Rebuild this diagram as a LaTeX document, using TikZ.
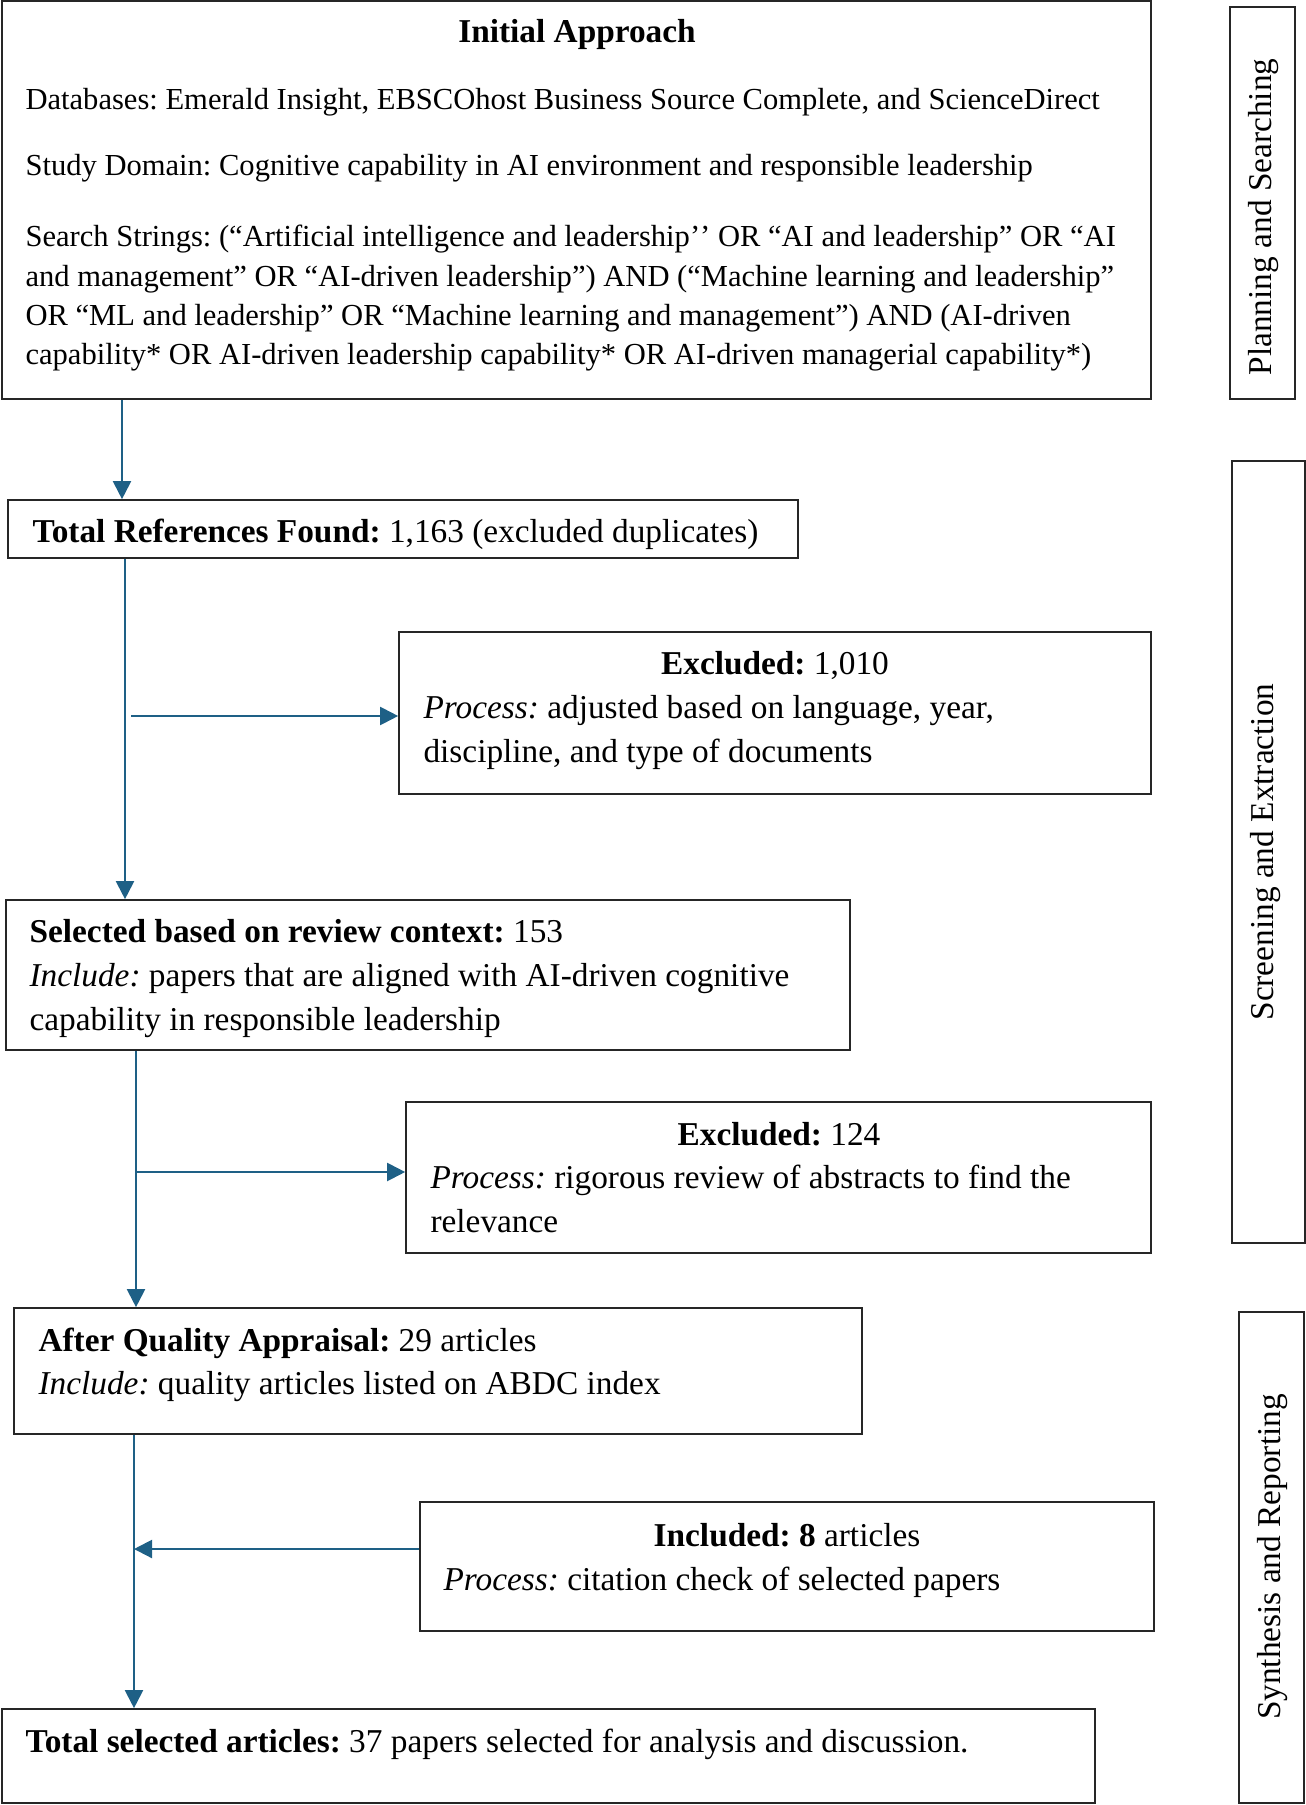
\documentclass[tikz,border=0pt]{standalone}
\usepackage{fontspec}
\setmainfont{Liberation Serif}
\usetikzlibrary{arrows.meta,fit}
\definecolor{arrowblue}{RGB}{30,96,134}
\newcommand\fsA{\fontsize{11}{13}\selectfont}
\newcommand\fsB{\fontsize{12}{14}\selectfont}
\frenchspacing
\begin{document}
\begin{tikzpicture}[x=0.36pt,y=-0.36pt,
  box/.style={draw=black!85, line width=0.6pt, inner sep=0pt, rectangle},
  txtA/.style={anchor=base west, inner sep=0pt, font=\fsA},
  txtB/.style={anchor=base west, inner sep=0pt, font=\fsB},
  txtC/.style={anchor=base, inner sep=0pt, font=\fsB},
  side/.style={rotate=90, inner sep=0pt, font=\fsB},
  arr/.style={draw=arrowblue, line width=0.75pt, -{Triangle[length=6.5pt,width=6.5pt]}}]
\useasboundingbox (0,0) rectangle (1306,1805);

% boxes
\node[box, fit={(2,1) (1151,399)}] (init) {};
\node[box, fit={(8,500) (798,558)}] (tr) {};
\node[box, fit={(399,632) (1151,794)}] (ex1) {};
\node[box, fit={(6,900) (850,1050)}] (sel) {};
\node[box, fit={(406,1102) (1151,1253)}] (ex2) {};
\node[box, fit={(14,1308) (862,1434)}] (aq) {};
\node[box, fit={(420,1502) (1154,1631)}] (inc) {};
\node[box, fit={(2,1709) (1095,1803)}] (ts) {};
\node[box, fit={(1230,7) (1295,399)}] (s1) {};
\node[box, fit={(1232,461) (1305,1243)}] (s2) {};
\node[box, fit={(1239,1312) (1304,1803)}] (s3) {};

% side labels
\node[side] (l1) at (1264,217) {Planning and Searching};
\node[side] (l2) at (1266,852) {Screening and Extraction};
\node[side] (l3) at (1273,1557) {Synthesis and Reporting};

% initial approach
\node[txtC] (ia0) at (577,43) {\textbf{Initial Approach}};
\node[txtA] (ia1) at (25,110) {Databases: Emerald Insight, EBSCOhost Business Source Complete, and ScienceDirect};
\node[txtA] (ia2) at (25,176) {Study Domain: Cognitive capability in AI environment and responsible leadership};
\node[txtA] (ia3) at (25,247) {Search Strings: (“Artificial intelligence and leadership’\kern0pt’ OR “AI and leadership” OR “AI};
\node[txtA] (ia4) at (25,287) {and management” OR “AI-driven leadership”) AND (“Machine learning and leadership”};
\node[txtA] (ia5) at (25,326) {OR “ML and leadership” OR “Machine learning and management”) AND (AI-driven};
\node[txtA] (ia6) at (25,365) {capability* OR AI-driven leadership capability* OR AI-driven managerial capability*)};

% total references
\node[txtB] (tr1) at (32,542) {\textbf{Total References Found:} 1,163 (excluded duplicates)};

% excluded 1
\node[txtC] (ex1a) at (775,674) {\textbf{Excluded:} 1,010};
\node[txtB] (ex1b) at (423,718) {\textit{Process:} adjusted based on language, year,};
\node[txtB] (ex1c) at (423,762) {discipline, and type of documents};

% selected
\node[txtB] (sel1) at (29,942) {\textbf{Selected based on review context:} 153};
\node[txtB] (sel2) at (29,986) {\textit{Include:} papers that are aligned with AI-driven cognitive};
\node[txtB] (sel3) at (29,1030) {capability in responsible leadership};

% excluded 2
\node[txtC] (ex2a) at (779,1145) {\textbf{Excluded:} 124};
\node[txtB] (ex2b) at (430,1188) {\textit{Process:} rigorous review of abstracts to find the};
\node[txtB] (ex2c) at (430,1232) {relevance};

% after quality appraisal
\node[txtB] (aq1) at (38,1351) {\textbf{After Quality Appraisal:} 29 articles};
\node[txtB] (aq2) at (38,1394) {\textit{Include:} quality articles listed on ABDC index};

% included
\node[txtC] (inc1) at (787,1546) {\textbf{Included: 8} articles};
\node[txtB] (inc2) at (443,1590) {\textit{Process:} citation check of selected papers};

% total selected
\node[txtB] (ts1) at (25,1752) {\textbf{Total selected articles:} 37 papers selected for analysis and discussion.};

% connectors
\coordinate (c0) at (122,0);
\coordinate (c1) at (125,0);
\coordinate (c2) at (136,0);
\coordinate (c3) at (134,0);
\coordinate (b1) at (131,716);
\coordinate (b2) at (136,1172);
\coordinate (b3) at (134,1549);
\draw[arr] (c0 |- init.south) -- (c0 |- tr.north);
\draw[arr] (c1 |- tr.south) -- (c1 |- sel.north);
\draw[arr] (b1) -- (b1 -| ex1.west);
\draw[arr] (c2 |- sel.south) -- (c2 |- aq.north);
\draw[arr] (b2) -- (b2 -| ex2.west);
\draw[arr] (c3 |- aq.south) -- (c3 |- ts.north);
\draw[arr] (b3 -| inc.west) -- (b3);
\end{tikzpicture}
\end{document}
